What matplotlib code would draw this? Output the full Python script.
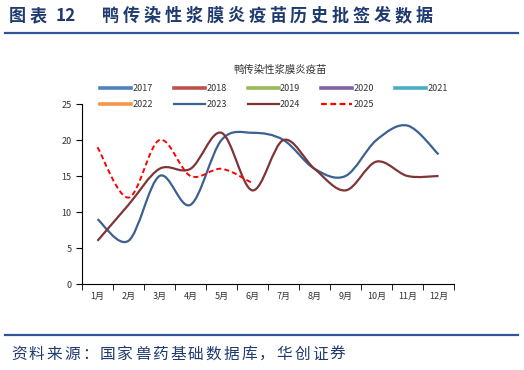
import numpy as np
import matplotlib
matplotlib.use('Agg')
from matplotlib import pyplot as plt
from matplotlib.path import Path
from matplotlib.patches import PathPatch
from matplotlib.lines import Line2D

plt.rcParams['font.family'] = ['Noto Sans CJK SC', 'DejaVu Sans']

# data
months = ['1月', '2月', '3月', '4月', '5月', '6月', '7月', '8月', '9月', '10月', '11月', '12月']
years = ['2017', '2018', '2019', '2020', '2021', '2022', '2023', '2024', '2025']
vals_2017 = []
vals_2018 = []
vals_2019 = []
vals_2020 = []
vals_2021 = []
vals_2022 = []
vals_2023 = [9, 6, 15, 11, 20, 21, 20, 16, 15, 20, 22, 18]
vals_2024 = [6, 11, 16, 16, 21, 13, 20, 16, 13, 17, 15, 15]
vals_2025 = [19, 12, 20, 15, 16, 14]

series = [vals_2017, vals_2018, vals_2019, vals_2020, vals_2021,
          vals_2022, vals_2023, vals_2024, vals_2025]
colors = ['#4F81BD', '#C0504D', '#9BBB59', '#8064A2', '#4BACC6',
          '#F79646', '#3C6190', '#7D3535', '#FF0000']
styles = ['-', '-', '-', '-', '-', '-', '-', '-', (0, (2.6, 1.6))]

title = '鸭传染性浆膜炎疫苗历史批签发数据'
source = '资料来源：国家兽药基础数据库，华创证券'


def smooth_path(y):
    # Excel-like smoothed line: cardinal spline drawn as cubic beziers
    x = np.arange(len(y), dtype=float)
    y = np.asarray(y, dtype=float)
    pts = np.column_stack([x, y])
    verts = [pts[0]]
    codes = [Path.MOVETO]
    n = len(pts)
    for i in range(n - 1):
        p0 = pts[i - 1] if i > 0 else pts[i]
        p1 = pts[i]
        p2 = pts[i + 1]
        p3 = pts[i + 2] if i + 2 < n else pts[i + 1]
        c1 = p1 + (p2 - p0) / 6.0
        c2 = p2 - (p3 - p1) / 6.0
        verts += [c1, c2, p2]
        codes += [Path.CURVE4] * 3
    return Path(verts, codes)


def spaced_text(fig, s, x0, y, stride, **kw):
    # place characters one by one to get the wide letter spacing
    for i, ch in enumerate(s):
        fig.text((x0 + stride * (i + 0.5)) / 524, 1 - y / 370, ch,
                 ha='center', va='center', **kw)


fig = plt.figure(figsize=(5.24, 3.70), dpi=100)
ax = fig.add_axes([82 / 524, 1 - 284 / 370, 372 / 524, 180 / 370])

handles = []
for name, vals, c, ls in zip(years, series, colors, styles):
    lw = 1.6 if ls == '-' else 1.4
    if len(vals) > 1:
        ax.add_patch(PathPatch(smooth_path(vals), fill=False, edgecolor=c,
                               lw=lw, linestyle=ls, capstyle='butt'))
    lw_leg = 2.6 if name in ['2017', '2018', '2019', '2020', '2021', '2022'] else 1.6
    handles.append(Line2D([], [], color=c, lw=lw_leg, linestyle=ls))

ax.set_xlim(-0.5, 11.5)
ax.set_ylim(0, 25)
ax.set_yticks([0, 5, 10, 15, 20, 25])
ax.set_xticks(range(12))
ax.set_xticklabels(months)
ax.set_xticks(np.arange(-0.5, 12, 1), minor=True)
ax.tick_params(axis='x', which='major', length=0, labelsize=6.5, pad=6, colors='#333333')
ax.tick_params(axis='x', which='minor', length=4, direction='out', color='black')
ax.tick_params(axis='y', length=4, direction='out', labelsize=6.5, colors='#333333')
ax.tick_params(axis='y', color='black')
ax.spines['top'].set_visible(False)
ax.spines['right'].set_visible(False)
ax.spines['left'].set_linewidth(0.8)
ax.spines['bottom'].set_linewidth(0.8)

# legend in row order with 5 columns
order = [0, 5, 1, 6, 2, 7, 3, 8, 4]
fig.legend([handles[i] for i in order], [years[i] for i in order],
           ncol=5, loc='upper left', bbox_to_anchor=(100 / 524, 1 - 84 / 370),
           frameon=False, fontsize=6.5, handlelength=3.45, handletextpad=0.15,
           columnspacing=2.3, labelspacing=0.8, borderaxespad=0, borderpad=0,
           labelcolor='#333333')

fig.text(280 / 524, 1 - 70 / 370, '鸭传染性浆膜炎疫苗', ha='center', va='center',
         fontsize=7.5, color='#333333')

# header and footer
spaced_text(fig, '图表', 7, 16, 20.8, fontsize=12.3, fontweight='bold', color='#1F3A6E')
fig.text(56 / 524, 1 - 16 / 370, '12', ha='left', va='center',
         fontsize=12.3, fontweight='bold', color='#1F3A6E')
spaced_text(fig, title, 100, 16, 20.9, fontsize=12.3, fontweight='bold', color='#1F3A6E')
fig.add_artist(Line2D([5 / 524, 518 / 524], [1 - 33 / 370, 1 - 33 / 370],
                      color='#2E5597', lw=1.6))
fig.add_artist(Line2D([5 / 524, 518 / 524], [1 - 335 / 370, 1 - 335 / 370],
                      color='#2E5597', lw=1.6))
spaced_text(fig, source, 10, 354, 17.7, fontsize=11.3, color='#1F3A6E')

fig.savefig('out.png', dpi=100)
